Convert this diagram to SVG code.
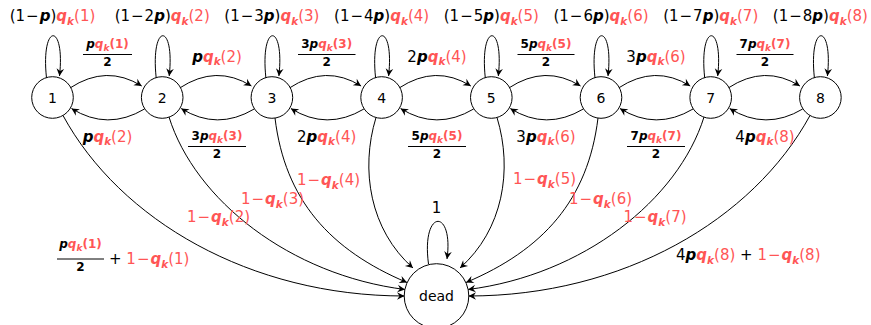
<svg xmlns="http://www.w3.org/2000/svg" width="871" height="325" viewBox="0 0 871 325">
<defs>
<marker id="ah" viewBox="-9 -5 10 10" refX="0" refY="0" markerWidth="10" markerHeight="10" markerUnits="userSpaceOnUse" orient="auto">
<path d="M0,0 L-7.5,-3.8 L-5,0 L-7.5,3.8 Z" fill="#000"/>
</marker>
<style>
.e{fill:none;stroke:#000;stroke-width:1;marker-end:url(#ah)}
.n{fill:#fff;stroke:#000;stroke-width:1}
.t{font-family:"DejaVu Sans",sans-serif;font-size:15px;fill:#000}
.nl{font-family:"DejaVu Sans",sans-serif;font-size:14px;fill:#000;text-anchor:middle}
.c{text-anchor:middle}
.r{fill:#ff5555}
.i{font-style:italic;font-weight:bold}
.s{font-size:10.5px}
.fn{font-family:"DejaVu Sans",sans-serif;font-size:12px;font-weight:bold;text-anchor:middle;fill:#000}
.fs{font-size:9px}
.bar{stroke:#000;stroke-width:1}
</style>
</defs>

<g id="edges">
<path class="e" d="M46.5 78 C40.5 22, 65.5 22, 59.5 76"/>
<path class="e" d="M156.2 78 C150.2 22, 175.2 22, 169.2 76"/>
<path class="e" d="M265.9 78 C259.9 22, 284.9 22, 278.9 76"/>
<path class="e" d="M375.6 78 C369.6 22, 394.6 22, 388.6 76"/>
<path class="e" d="M485.3 78 C479.3 22, 504.3 22, 498.3 76"/>
<path class="e" d="M595 78 C589 22, 614 22, 608 76"/>
<path class="e" d="M704.7 78 C698.7 22, 723.7 22, 717.7 76"/>
<path class="e" d="M814.4 78 C808.4 22, 833.4 22, 827.4 76"/>
<path class="e" d="M428.5 264 C421 208, 454 208, 447 259"/>
<path class="e" d="M70 88 Q106.5 64 141.7 86"/>
<path class="e" d="M179.7 88 Q216.2 64 251.4 86"/>
<path class="e" d="M289.4 88 Q325.9 64 361.1 86"/>
<path class="e" d="M399.1 88 Q435.6 64 470.8 86"/>
<path class="e" d="M508.8 88 Q545.3 64 580.5 86"/>
<path class="e" d="M618.5 88 Q655 64 690.2 86"/>
<path class="e" d="M728.2 88 Q764.7 64 799.9 86"/>
<path class="e" d="M144.5 109 Q107.5 131 71.5 108.5"/>
<path class="e" d="M254.2 109 Q217.2 131 181.2 108.5"/>
<path class="e" d="M363.9 109 Q326.9 131 290.9 108.5"/>
<path class="e" d="M473.6 109 Q436.6 131 400.6 108.5"/>
<path class="e" d="M583.3 109 Q546.3 131 510.3 108.5"/>
<path class="e" d="M693 109 Q656 131 620 108.5"/>
<path class="e" d="M802.7 109 Q765.7 131 729.7 108.5"/>
<path class="e" d="M63 115.5 C120 220, 250 296, 404.5 296"/>
<path class="e" d="M169 117 C195 200, 290 275, 405 289.5"/>
<path class="e" d="M275 118 C285 200, 330 250, 407 282.5"/>
<path class="e" d="M376 117.5 C360 170, 370 230, 413 268"/>
<path class="e" d="M497 117.5 C513 170, 503 230, 460 268"/>
<path class="e" d="M598 118 C588 200, 543 250, 466 282.5"/>
<path class="e" d="M704 117 C678 200, 583 275, 468 289.5"/>
<path class="e" d="M810 115.5 C753 220, 623 296, 468.5 296"/>
</g>

<g id="node1"><circle class="n" cx="52.5" cy="97.5" r="20.8"/><text class="nl" x="52.5" y="102.5">1</text></g>
<g id="node2"><circle class="n" cx="162.2" cy="97.5" r="20.8"/><text class="nl" x="162.2" y="102.5">2</text></g>
<g id="node3"><circle class="n" cx="271.9" cy="97.5" r="20.8"/><text class="nl" x="271.9" y="102.5">3</text></g>
<g id="node4"><circle class="n" cx="381.6" cy="97.5" r="20.8"/><text class="nl" x="381.6" y="102.5">4</text></g>
<g id="node5"><circle class="n" cx="491.3" cy="97.5" r="20.8"/><text class="nl" x="491.3" y="102.5">5</text></g>
<g id="node6"><circle class="n" cx="601" cy="97.5" r="20.8"/><text class="nl" x="601" y="102.5">6</text></g>
<g id="node7"><circle class="n" cx="710.7" cy="97.5" r="20.8"/><text class="nl" x="710.7" y="102.5">7</text></g>
<g id="node8"><circle class="n" cx="820.4" cy="97.5" r="20.8"/><text class="nl" x="820.4" y="102.5">8</text></g>
<g id="dead"><circle class="n" cx="436.5" cy="296" r="32.3"/><text class="nl" x="436.5" y="301">dead</text></g>

<g id="labels">
<text class="t c" x="52.5" y="21">(1<tspan dx="1">−</tspan><tspan class="i" dx="1">p</tspan>)<tspan class="r"><tspan class="i">q</tspan><tspan class="i s" dy="3.5">k</tspan><tspan dy="-3.5">(1)</tspan></tspan></text>
<text class="t c" x="162.2" y="21">(1<tspan dx="1">−</tspan><tspan dx="1">2</tspan><tspan class="i">p</tspan>)<tspan class="r"><tspan class="i">q</tspan><tspan class="i s" dy="3.5">k</tspan><tspan dy="-3.5">(2)</tspan></tspan></text>
<text class="t c" x="271.9" y="21">(1<tspan dx="1">−</tspan><tspan dx="1">3</tspan><tspan class="i">p</tspan>)<tspan class="r"><tspan class="i">q</tspan><tspan class="i s" dy="3.5">k</tspan><tspan dy="-3.5">(3)</tspan></tspan></text>
<text class="t c" x="381.6" y="21">(1<tspan dx="1">−</tspan><tspan dx="1">4</tspan><tspan class="i">p</tspan>)<tspan class="r"><tspan class="i">q</tspan><tspan class="i s" dy="3.5">k</tspan><tspan dy="-3.5">(4)</tspan></tspan></text>
<text class="t c" x="491.3" y="21">(1<tspan dx="1">−</tspan><tspan dx="1">5</tspan><tspan class="i">p</tspan>)<tspan class="r"><tspan class="i">q</tspan><tspan class="i s" dy="3.5">k</tspan><tspan dy="-3.5">(5)</tspan></tspan></text>
<text class="t c" x="601" y="21">(1<tspan dx="1">−</tspan><tspan dx="1">6</tspan><tspan class="i">p</tspan>)<tspan class="r"><tspan class="i">q</tspan><tspan class="i s" dy="3.5">k</tspan><tspan dy="-3.5">(6)</tspan></tspan></text>
<text class="t c" x="710.7" y="21">(1<tspan dx="1">−</tspan><tspan dx="1">7</tspan><tspan class="i">p</tspan>)<tspan class="r"><tspan class="i">q</tspan><tspan class="i s" dy="3.5">k</tspan><tspan dy="-3.5">(7)</tspan></tspan></text>
<text class="t c" x="820.4" y="21">(1<tspan dx="1">−</tspan><tspan dx="1">8</tspan><tspan class="i">p</tspan>)<tspan class="r"><tspan class="i">q</tspan><tspan class="i s" dy="3.5">k</tspan><tspan dy="-3.5">(8)</tspan></tspan></text>

<text class="fn" x="107.5" y="48"><tspan class="i">p</tspan><tspan class="r"><tspan class="i">q</tspan><tspan class="i fs" dy="3">k</tspan><tspan dy="-3">(1)</tspan></tspan></text>
<line class="bar" x1="83" y1="54.5" x2="132" y2="54.5"/>
<text class="fn" x="107.5" y="66">2</text>
<text class="t c" x="217" y="61.5"><tspan class="i">p</tspan><tspan class="r"><tspan class="i">q</tspan><tspan class="i s" dy="3.5">k</tspan><tspan dy="-3.5">(2)</tspan></tspan></text>
<text class="fn" x="326.7" y="48">3<tspan class="i">p</tspan><tspan class="r"><tspan class="i">q</tspan><tspan class="i fs" dy="3">k</tspan><tspan dy="-3">(3)</tspan></tspan></text>
<line class="bar" x1="298" y1="54.5" x2="355.5" y2="54.5"/>
<text class="fn" x="326.7" y="66">2</text>
<text class="t c" x="437" y="61.5">2<tspan class="i">p</tspan><tspan class="r"><tspan class="i">q</tspan><tspan class="i s" dy="3.5">k</tspan><tspan dy="-3.5">(4)</tspan></tspan></text>
<text class="fn" x="546" y="48">5<tspan class="i">p</tspan><tspan class="r"><tspan class="i">q</tspan><tspan class="i fs" dy="3">k</tspan><tspan dy="-3">(5)</tspan></tspan></text>
<line class="bar" x1="517.5" y1="54.5" x2="574.5" y2="54.5"/>
<text class="fn" x="546" y="66">2</text>
<text class="t c" x="656" y="61.5">3<tspan class="i">p</tspan><tspan class="r"><tspan class="i">q</tspan><tspan class="i s" dy="3.5">k</tspan><tspan dy="-3.5">(6)</tspan></tspan></text>
<text class="fn" x="765" y="48">7<tspan class="i">p</tspan><tspan class="r"><tspan class="i">q</tspan><tspan class="i fs" dy="3">k</tspan><tspan dy="-3">(7)</tspan></tspan></text>
<line class="bar" x1="736.5" y1="54.5" x2="793.5" y2="54.5"/>
<text class="fn" x="765" y="66">2</text>

<text class="t c" x="107.5" y="141.5"><tspan class="i">p</tspan><tspan class="r"><tspan class="i">q</tspan><tspan class="i s" dy="3.5">k</tspan><tspan dy="-3.5">(2)</tspan></tspan></text>
<text class="fn" x="217" y="140">3<tspan class="i">p</tspan><tspan class="r"><tspan class="i">q</tspan><tspan class="i fs" dy="3">k</tspan><tspan dy="-3">(3)</tspan></tspan></text>
<line class="bar" x1="188" y1="146.5" x2="246" y2="146.5"/>
<text class="fn" x="217" y="158">2</text>
<text class="t c" x="326.7" y="141.5">2<tspan class="i">p</tspan><tspan class="r"><tspan class="i">q</tspan><tspan class="i s" dy="3.5">k</tspan><tspan dy="-3.5">(4)</tspan></tspan></text>
<text class="fn" x="437" y="140">5<tspan class="i">p</tspan><tspan class="r"><tspan class="i">q</tspan><tspan class="i fs" dy="3">k</tspan><tspan dy="-3">(5)</tspan></tspan></text>
<line class="bar" x1="408" y1="146.5" x2="466" y2="146.5"/>
<text class="fn" x="437" y="158">2</text>
<text class="t c" x="546" y="141.5">3<tspan class="i">p</tspan><tspan class="r"><tspan class="i">q</tspan><tspan class="i s" dy="3.5">k</tspan><tspan dy="-3.5">(6)</tspan></tspan></text>
<text class="fn" x="656" y="140">7<tspan class="i">p</tspan><tspan class="r"><tspan class="i">q</tspan><tspan class="i fs" dy="3">k</tspan><tspan dy="-3">(7)</tspan></tspan></text>
<line class="bar" x1="627" y1="146.5" x2="685" y2="146.5"/>
<text class="fn" x="656" y="158">2</text>
<text class="t c" x="765" y="141.5">4<tspan class="i">p</tspan><tspan class="r"><tspan class="i">q</tspan><tspan class="i s" dy="3.5">k</tspan><tspan dy="-3.5">(8)</tspan></tspan></text>

<text class="t c r" x="218.5" y="222">1<tspan dx="1">−</tspan><tspan class="i" dx="1">q</tspan><tspan class="i s" dy="3.5">k</tspan><tspan dy="-3.5">(2)</tspan></text>
<text class="t c r" x="272.5" y="204">1<tspan dx="1">−</tspan><tspan class="i" dx="1">q</tspan><tspan class="i s" dy="3.5">k</tspan><tspan dy="-3.5">(3)</tspan></text>
<text class="t c r" x="328.5" y="185">1<tspan dx="1">−</tspan><tspan class="i" dx="1">q</tspan><tspan class="i s" dy="3.5">k</tspan><tspan dy="-3.5">(4)</tspan></text>
<text class="t c r" x="544.5" y="184">1<tspan dx="1">−</tspan><tspan class="i" dx="1">q</tspan><tspan class="i s" dy="3.5">k</tspan><tspan dy="-3.5">(5)</tspan></text>
<text class="t c r" x="600.5" y="204">1<tspan dx="1">−</tspan><tspan class="i" dx="1">q</tspan><tspan class="i s" dy="3.5">k</tspan><tspan dy="-3.5">(6)</tspan></text>
<text class="t c r" x="655" y="222">1<tspan dx="1">−</tspan><tspan class="i" dx="1">q</tspan><tspan class="i s" dy="3.5">k</tspan><tspan dy="-3.5">(7)</tspan></text>

<text class="fn" x="80.5" y="248"><tspan class="i">p</tspan><tspan class="r"><tspan class="i">q</tspan><tspan class="i fs" dy="3">k</tspan><tspan dy="-3">(1)</tspan></tspan></text>
<line class="bar" x1="57" y1="259" x2="104" y2="259"/>
<text class="fn" x="80.5" y="270.5">2</text>
<text class="t" x="109" y="264">+ <tspan class="r">1<tspan dx="1">−</tspan><tspan class="i" dx="1">q</tspan><tspan class="i s" dy="3.5">k</tspan><tspan dy="-3.5">(1)</tspan></tspan></text>

<text class="t" x="676" y="260">4<tspan class="i">p</tspan><tspan class="r"><tspan class="i">q</tspan><tspan class="i s" dy="3.5">k</tspan><tspan dy="-3.5">(8)</tspan></tspan> + <tspan class="r">1<tspan dx="1">−</tspan><tspan class="i" dx="1">q</tspan><tspan class="i s" dy="3.5">k</tspan><tspan dy="-3.5">(8)</tspan></tspan></text>

<text class="t c" x="436.5" y="213">1</text>
</g>
</svg>
